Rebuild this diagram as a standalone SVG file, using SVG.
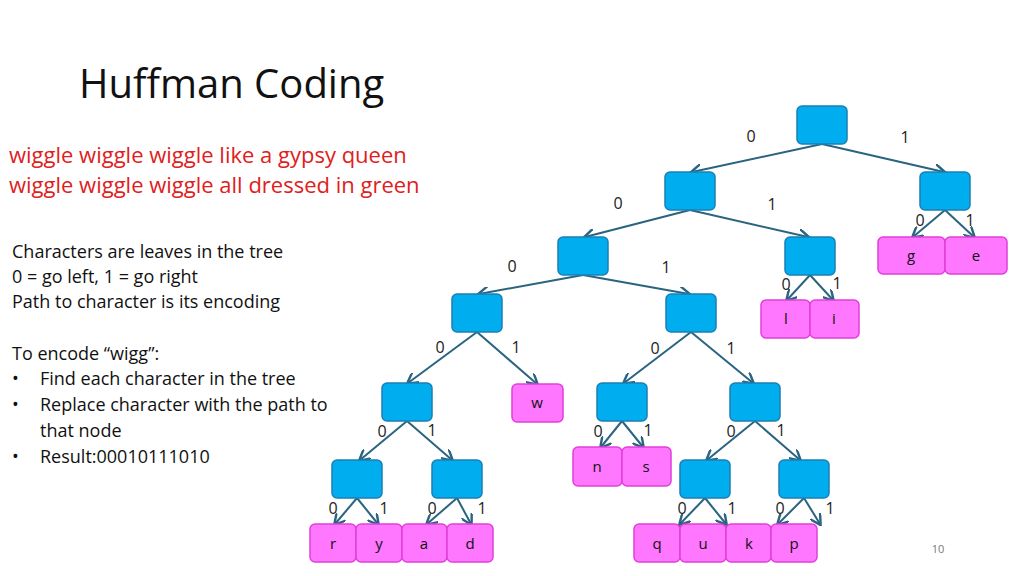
<svg xmlns="http://www.w3.org/2000/svg" width="1024" height="576" viewBox="0 0 1024 576">
<style>
text{font-family:"Open Sans","Liberation Sans",sans-serif}
.n{fill:#00AEEF;stroke:#1B7FB5;stroke-width:1.5}
.l{fill:#FF77FF;stroke:#E040D8;stroke-width:1.5}
.t{font-size:16px;fill:#222;text-anchor:middle}
.b{font-size:15px;fill:#111;text-anchor:middle}
.e{stroke:#2A6480;stroke-width:2;fill:none;marker-end:url(#a)}
.p{font-size:18px;fill:#111}
.r{font-size:22px;fill:#E02020}
</style>
<defs><marker id="a" viewBox="0 0 10 10" refX="8" refY="5" markerWidth="6" markerHeight="6" orient="auto"><path d="M0,0L9,5L0,10" fill="none" stroke="#2A6480" stroke-width="2"/></marker></defs>
<rect width="1024" height="576" fill="#fff"/>
<text x="79" y="98" font-size="40" fill="#111">Huffman Coding</text>
<text class="r" x="9" y="163">wiggle wiggle wiggle like a gypsy queen</text>
<text class="r" x="9" y="193">wiggle wiggle wiggle all dressed in green</text>
<text class="p" x="12" y="258">Characters are leaves in the tree</text>
<text class="p" x="12" y="283">0 = go left, 1 = go right</text>
<text class="p" x="12" y="308">Path to character is its encoding</text>
<text class="p" x="12" y="360">To encode “wigg”:</text>
<text class="p" x="12" y="385">•</text><text class="p" x="40" y="385">Find each character in the tree</text>
<text class="p" x="12" y="411">•</text><text class="p" x="40" y="411">Replace character with the path to</text>
<text class="p" x="40" y="437">that node</text>
<text class="p" x="12" y="463">•</text><text class="p" x="40" y="463">Result:00010111010</text>
<text x="938" y="553" font-size="11" fill="#777" text-anchor="middle">10</text>
<g id="connectors">
<path class="e" d="M822,144L692,172"/><path class="e" d="M822,144L944,172"/>
<path class="e" d="M945,210L913,237"/><path class="e" d="M945,210L974,237"/>
<path class="e" d="M690,210L585,237"/><path class="e" d="M690,210L808,237"/>
<path class="e" d="M810,275L787,300"/><path class="e" d="M810,275L833,300"/>
<path class="e" d="M583,275L479,294"/><path class="e" d="M583,275L689,294"/>
<path class="e" d="M477,332L408,383"/><path class="e" d="M477,332L537,384"/>
<path class="e" d="M691,332L624,383"/><path class="e" d="M691,332L753,383"/>
<path class="e" d="M407,421L360,460"/><path class="e" d="M407,421L452,460"/>
<path class="e" d="M622,421L601,447"/><path class="e" d="M622,421L643,447"/>
<path class="e" d="M755,421L707,460"/><path class="e" d="M755,421L800,460"/>
<path class="e" d="M357,498L335,524"/><path class="e" d="M357,498L378,524"/>
<path class="e" d="M457,498L427,524"/><path class="e" d="M457,498L471,524"/>
<path class="e" d="M705,498L680,524"/><path class="e" d="M705,498L726,524"/>
<path class="e" d="M804,498L778,524"/><path class="e" d="M804,498L820,524"/>
</g>
<g id="edge-labels" class="t">
<text x="751" y="142">0</text><text x="905" y="143">1</text>
<text x="618" y="209">0</text><text x="772" y="210">1</text>
<text x="920" y="226">0</text><text x="970" y="226">1</text>
<text x="512" y="272">0</text><text x="666" y="273">1</text>
<text x="786" y="290">0</text><text x="837" y="289">1</text>
<text x="440" y="353">0</text><text x="516" y="353">1</text>
<text x="655" y="354">0</text><text x="731" y="354">1</text>
<text x="382" y="437">0</text><text x="432" y="436">1</text>
<text x="598" y="437">0</text><text x="648" y="436">1</text>
<text x="731" y="437">0</text><text x="781" y="436">1</text>
<text x="333" y="514">0</text><text x="384" y="514">1</text>
<text x="432" y="514">0</text><text x="482" y="514">1</text>
<text x="682" y="514">0</text><text x="732" y="514">1</text>
<text x="780" y="514">0</text><text x="830" y="514">1</text>
</g>
<g id="root"><rect class="n" x="797" y="106" width="50" height="38" rx="5"/></g>
<g id="n0"><rect class="n" x="665" y="172" width="50" height="38" rx="5"/></g>
<g id="n1"><rect class="n" x="920" y="172" width="50" height="38" rx="5"/></g>
<g id="n00"><rect class="n" x="558" y="237" width="50" height="38" rx="5"/></g>
<g id="n01"><rect class="n" x="785" y="237" width="50" height="38" rx="5"/></g>
<g id="n000"><rect class="n" x="452" y="294" width="50" height="38" rx="5"/></g>
<g id="n001"><rect class="n" x="666" y="294" width="50" height="38" rx="5"/></g>
<g id="n0000"><rect class="n" x="382" y="383" width="50" height="38" rx="5"/></g>
<g id="n0010"><rect class="n" x="597" y="383" width="50" height="38" rx="5"/></g>
<g id="n0011"><rect class="n" x="730" y="383" width="50" height="38" rx="5"/></g>
<g id="n00000"><rect class="n" x="332" y="460" width="50" height="38" rx="5"/></g>
<g id="n00001"><rect class="n" x="432" y="460" width="50" height="38" rx="5"/></g>
<g id="n00110"><rect class="n" x="680" y="460" width="50" height="38" rx="5"/></g>
<g id="n00111"><rect class="n" x="779" y="460" width="50" height="38" rx="5"/></g>
<g id="g"><rect class="l" x="878" y="237" width="67" height="37" rx="5"/><text class="b" x="911" y="261">g</text></g>
<g id="e"><rect class="l" x="945" y="237" width="62" height="37" rx="5"/><text class="b" x="976" y="261">e</text></g>
<g id="l"><rect class="l" x="761" y="300" width="49" height="38" rx="5"/><text class="b" x="786" y="324">l</text></g>
<g id="i"><rect class="l" x="810" y="300" width="49" height="38" rx="5"/><text class="b" x="834" y="324">i</text></g>
<g id="w"><rect class="l" x="512" y="384" width="51" height="38" rx="5"/><text class="b" x="537" y="408">w</text></g>
<g id="n"><rect class="l" x="573" y="447" width="49" height="39" rx="5"/><text class="b" x="597" y="472">n</text></g>
<g id="s"><rect class="l" x="622" y="447" width="49" height="39" rx="5"/><text class="b" x="646" y="472">s</text></g>
<g id="r"><rect class="l" x="310" y="524" width="46" height="38" rx="5"/><text class="b" x="333" y="549">r</text></g>
<g id="y"><rect class="l" x="356" y="524" width="46" height="38" rx="5"/><text class="b" x="379" y="549">y</text></g>
<g id="a2"><rect class="l" x="402" y="524" width="45" height="38" rx="5"/><text class="b" x="424" y="549">a</text></g>
<g id="d"><rect class="l" x="447" y="524" width="46" height="38" rx="5"/><text class="b" x="470" y="549">d</text></g>
<g id="q"><rect class="l" x="634" y="524" width="46" height="38" rx="5"/><text class="b" x="657" y="549">q</text></g>
<g id="u"><rect class="l" x="680" y="524" width="46" height="38" rx="5"/><text class="b" x="703" y="549">u</text></g>
<g id="k"><rect class="l" x="726" y="524" width="45" height="38" rx="5"/><text class="b" x="749" y="549">k</text></g>
<g id="p"><rect class="l" x="771" y="524" width="46" height="38" rx="5"/><text class="b" x="794" y="549">p</text></g>
</svg>
